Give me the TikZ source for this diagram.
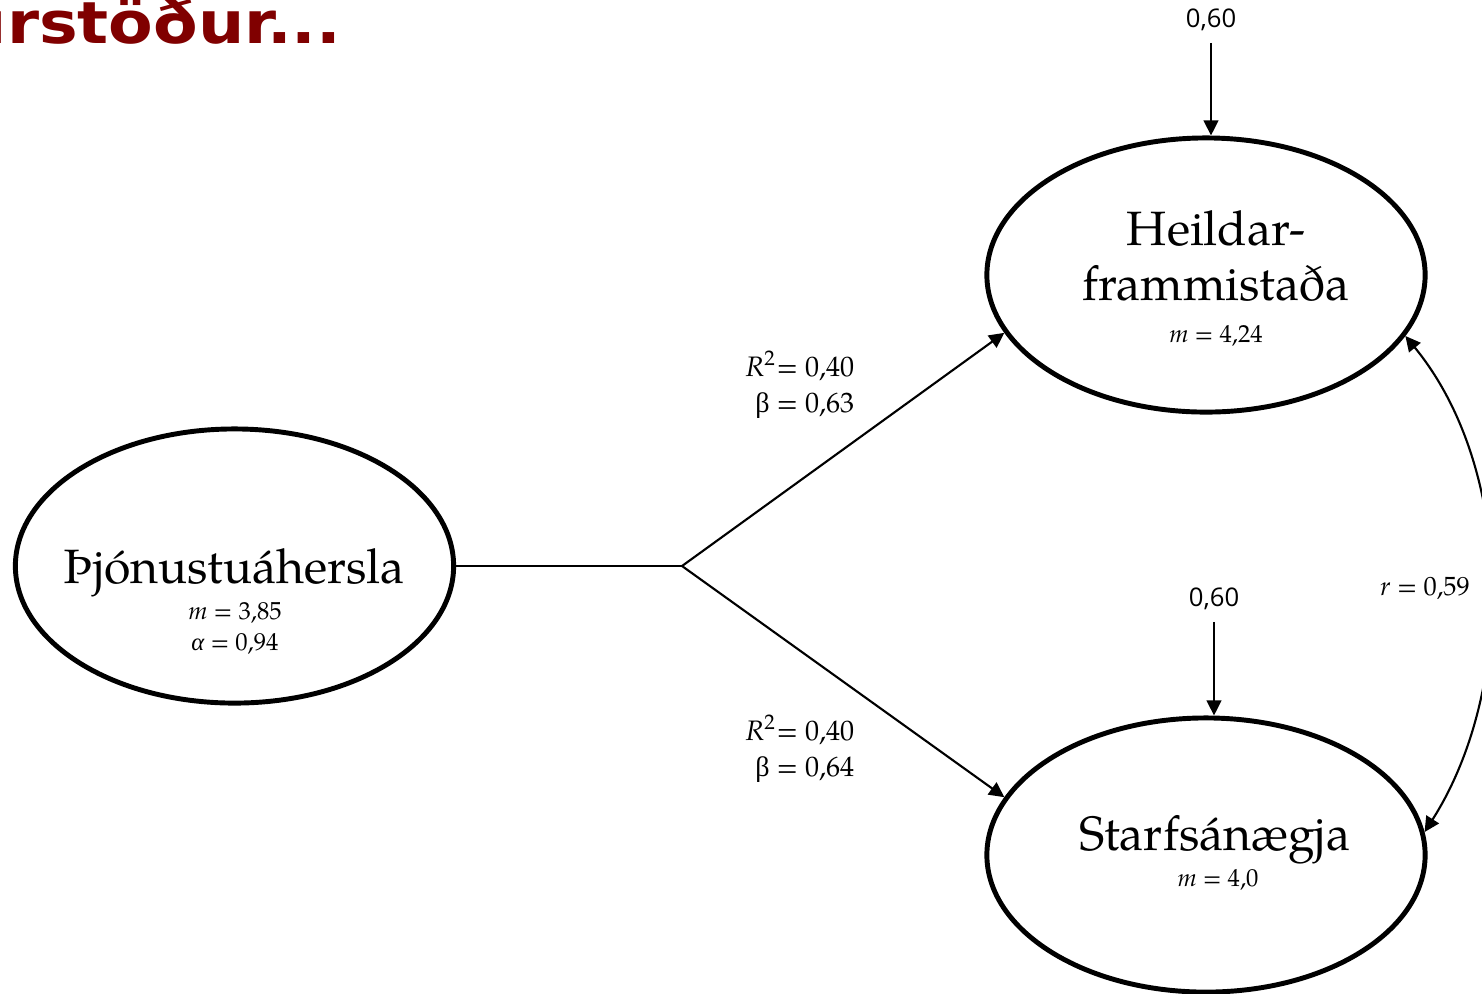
\documentclass[tikz,border=0pt]{standalone}
\usepackage{fontspec}
\setmainfont{TeX Gyre Pagella}
\newfontfamily\grk{Liberation Serif}
\newfontfamily\sansnum{Open Sans}
\newfontfamily\titlefont{DejaVu Sans}
\usetikzlibrary{arrows.meta,shapes.geometric}
\definecolor{titlered}{RGB}{128,0,0}
\begin{document}
\begin{tikzpicture}[x=0.01cm,y=-0.01cm,
  latent/.style={draw,ellipse,line width=1.4pt,minimum width=4.38cm,minimum height=2.74cm,inner sep=0pt},
  bigtxt/.style={anchor=base,inner sep=0pt,font=\fontsize{13.7}{15}\selectfont},
  stat/.style={anchor=base,inner sep=0pt,font=\fontsize{7}{8}\selectfont},
  coef/.style={anchor=base east,inner sep=0pt,font=\fontsize{8}{9}\selectfont},
  errlab/.style={anchor=base,inner sep=0pt,font=\sansnum\fontsize{7.3}{8}\selectfont},
  conn/.style={line width=0.6pt,-{Triangle[length=4.3pt,width=4.2pt]}},
  plain/.style={line width=0.6pt}]
\useasboundingbox (0,0) rectangle (1482,993);
\clip (0,0) rectangle (1482,993);
% title fragment
\node[anchor=base east,inner sep=0pt,text=titlered,font=\titlefont\bfseries\fontsize{16.5}{18}\selectfont] (title) at (342,43) {\scalebox{1.12}[1]{Niðurstöður...}};
% ellipses
\node[latent] (thj) at (234.5,566) {};
\node[latent] (heild) at (1206,275) {};
\node[latent] (starf) at (1206,855) {};
% texts
\node[bigtxt] (t1) at (234.5,583) {Þjónustuáhersla};
\node[stat] (t1m) at (235,619) {\textit{m} = 3,85};
\node[stat] (t1a) at (235,650) {{\grk\itshape α} = 0,94};
\node[bigtxt] (t2a) at (1216,245) {Heildar-};
\node[bigtxt] (t2b) at (1216,300) {frammistaða};
\node[stat] (t2m) at (1216,342) {\textit{m} = 4,24};
\node[bigtxt] (t3) at (1215,850) {Starfsánægja};
\node[stat] (t3m) at (1218,886) {\textit{m} = 4,0};
% path labels
\node[coef] (c1) at (855,376) {\textit{R}{\fontsize{6}{7}\selectfont\raisebox{3pt}{2}}\kern0.5pt= 0,40};
\node[coef] (c2) at (855,412) {{\grk β} = 0,63};
\node[coef] (c3) at (855,740) {\textit{R}{\fontsize{6}{7}\selectfont\raisebox{3pt}{2}}\kern0.5pt= 0,40};
\node[coef] (c4) at (855,776) {{\grk β} = 0,64};
% error terms
\node[errlab] (e1) at (1211,27) {0,60};
\node[errlab] (e2) at (1214,606) {0,60};
\node[anchor=base,inner sep=0pt,font=\fontsize{7.5}{8}\selectfont] (r) at (1425,595) {\textit{r} = 0,59};
% connectors
\coordinate (j) at (682,566);
\draw[plain] (thj.east) -- (j);
\draw[conn] (j) -- (heild.196);
\draw[conn] (j) -- (starf.164);
\draw[conn] ([yshift=-3.4pt]e1.south) -- (e1.south |- heild.north);
\draw[conn] ([yshift=-3.4pt]e2.south) -- (e2.south |- starf.north);
\draw[line width=0.6pt,{Triangle[length=4.3pt,width=4.2pt]}-{Triangle[length=4.3pt,width=4.2pt]}]
  (heild.-17) .. controls (1515,470) and (1515,690) .. (starf.6);
\end{tikzpicture}
\end{document}
